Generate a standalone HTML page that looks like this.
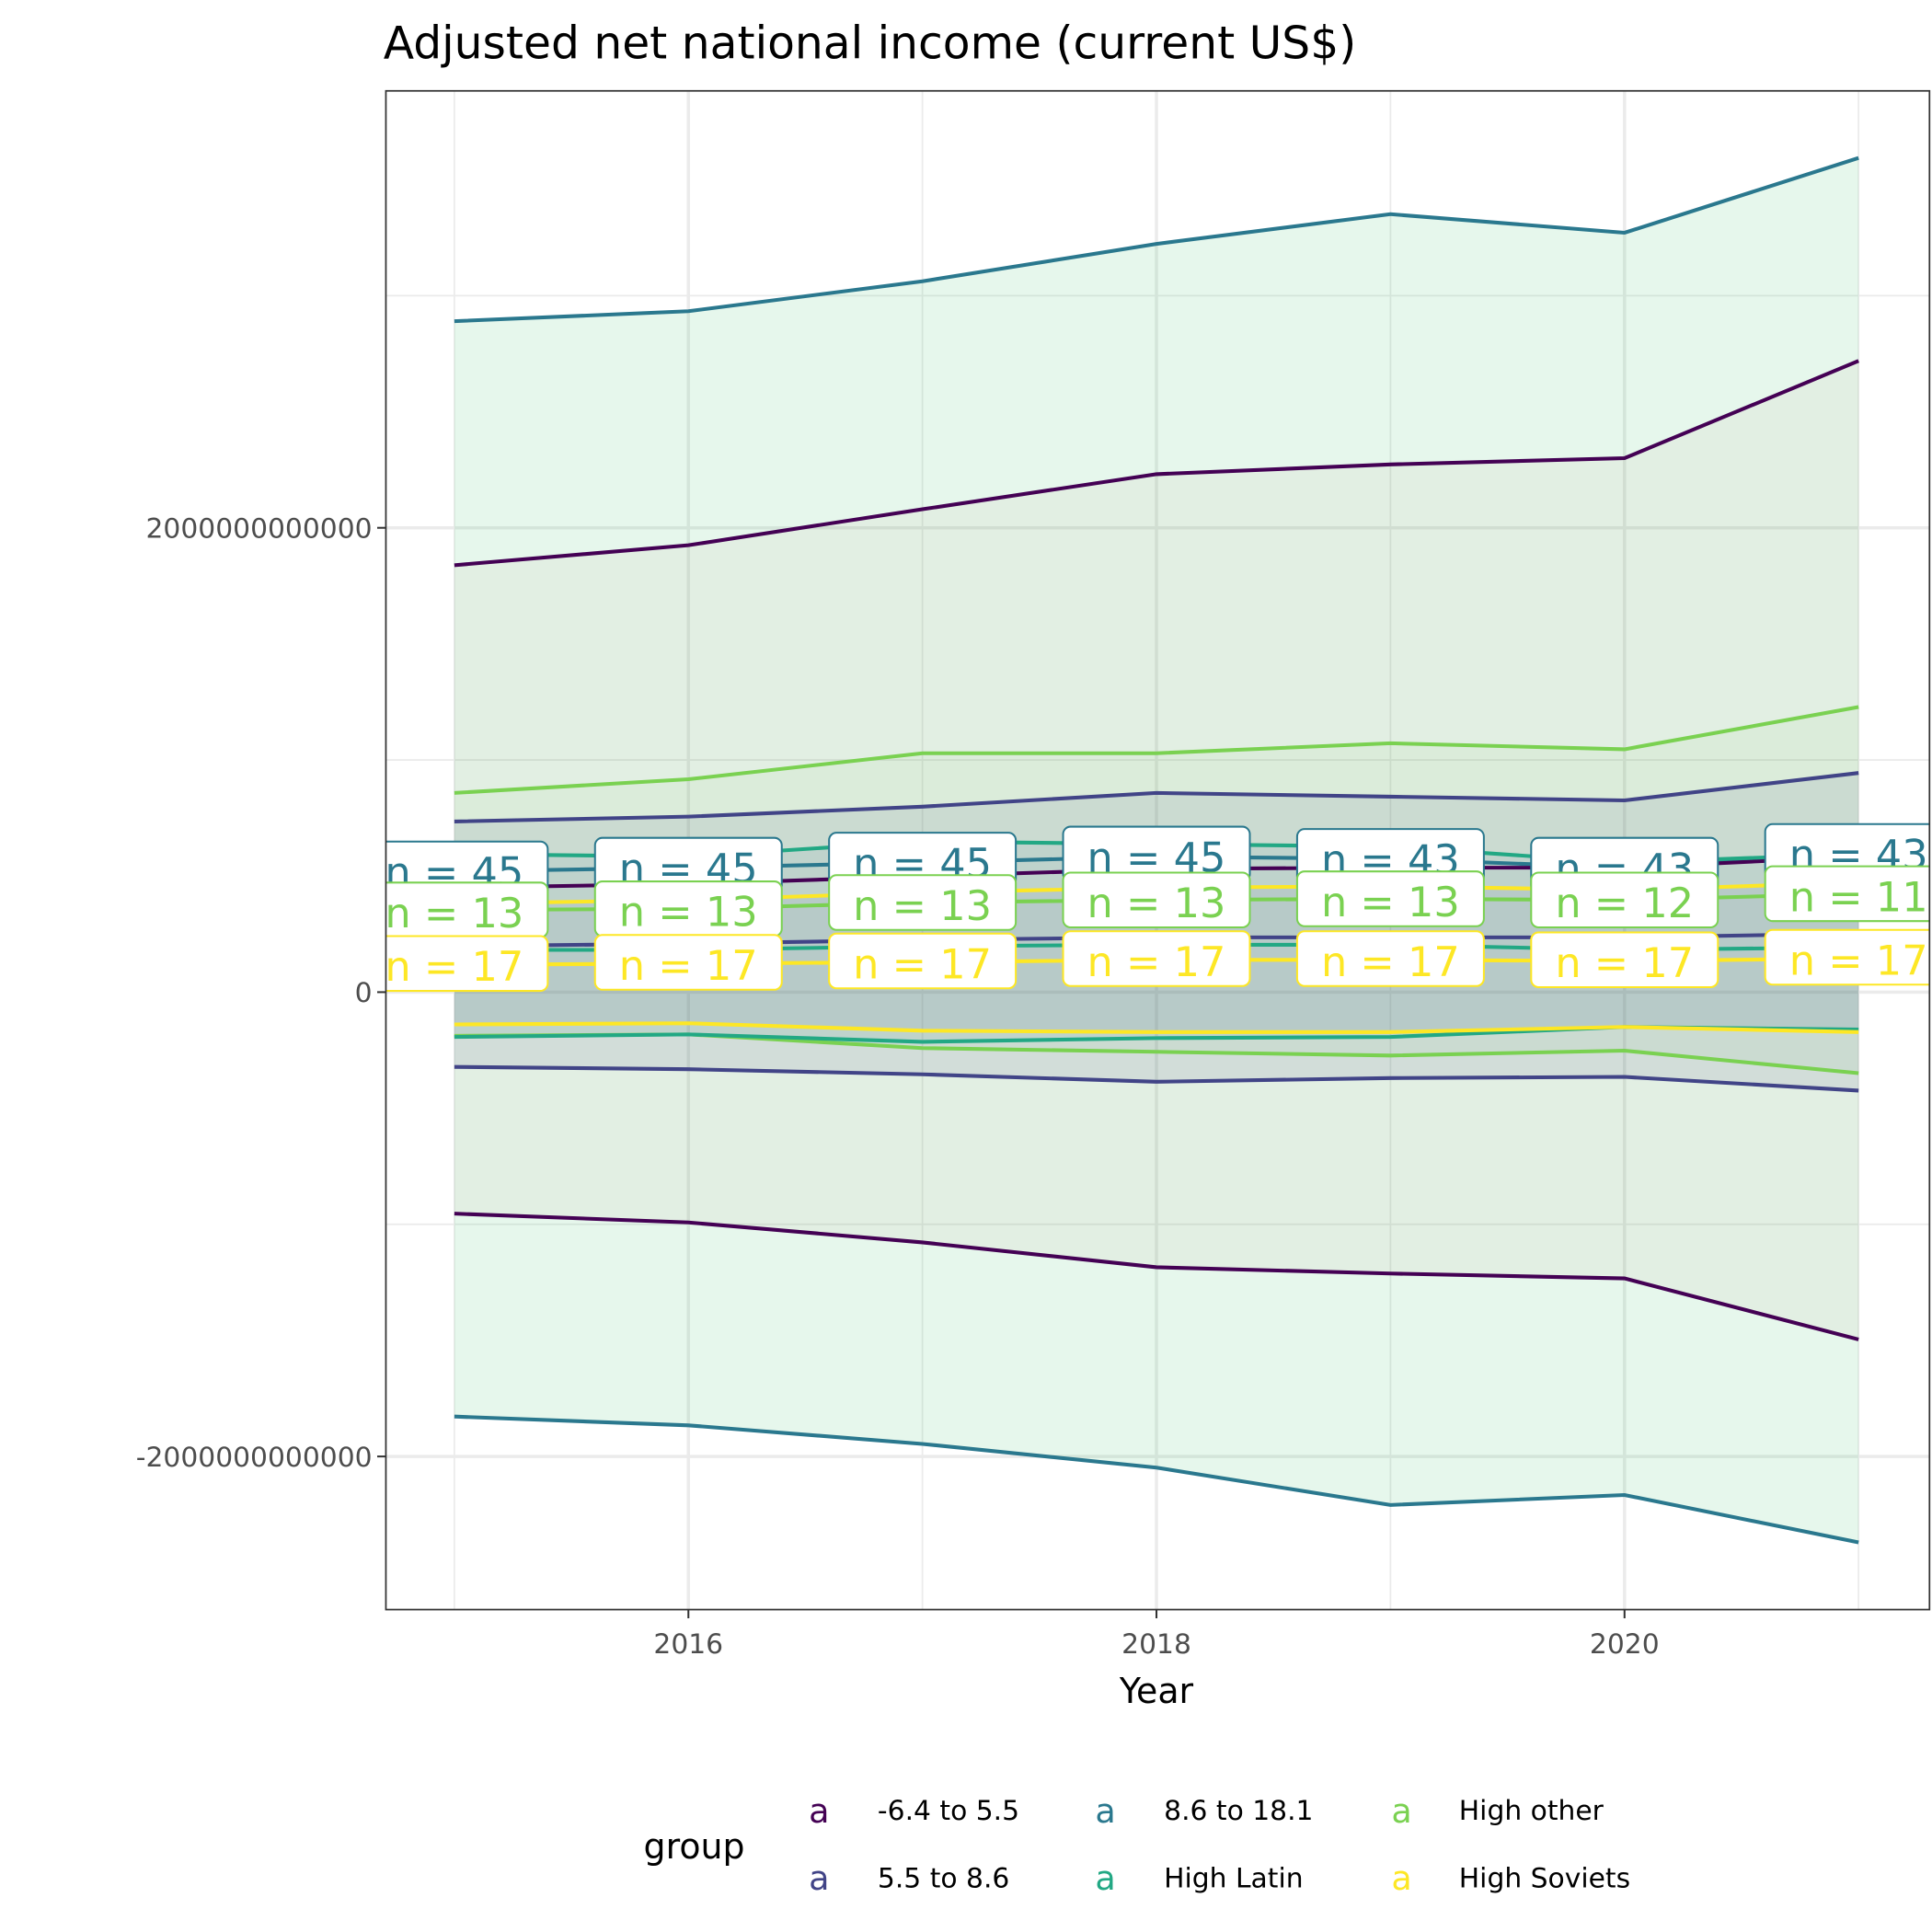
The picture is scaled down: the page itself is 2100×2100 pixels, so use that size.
<!DOCTYPE html>
<html><head><meta charset="utf-8"><style>
html,body{margin:0;padding:0;background:#fff}
svg{display:block;font-family:"DejaVu Sans","Liberation Sans",sans-serif}
</style></head><body>
<svg id="chart" width="2100" height="2100" viewBox="0 0 1552 1552" xmlns="http://www.w3.org/2000/svg">
<text x="308" y="47" font-size="36" fill="#000">Adjusted net national income (current US$)</text>
<defs><clipPath id="pc"><rect x="310" y="73" width="1240" height="1220"/></clipPath></defs>
<rect x="310" y="73" width="1240" height="1220" fill="#fff"/>
<g id="grid"></g>
<g id="ribbons" clip-path="url(#pc)"></g>
<g id="lines" clip-path="url(#pc)"></g>
<g id="labels" clip-path="url(#pc)"></g>
<rect x="310" y="73" width="1240" height="1220" fill="none" stroke="#333" stroke-width="1.3"/>
<g id="axes"></g>
<text x="929" y="1368" font-size="28" text-anchor="middle">Year</text>
<g id="legend"></g>
</svg>
<script>
const years=[2015,2016,2017,2018,2019,2020,2021];
const groups=["-6.4 to 5.5","5.5 to 8.6","8.6 to 18.1","High Latin","High other","High Soviets"];
const colors=["#440154","#414487","#2A788E","#22A884","#7AD151","#FDE725"];
// values in billions US$
const upperG1=[1839,1925,2080,2231,2273,2300,2719];
const meanG1=[450,466,499,531,536,536,584];
const lowerG1=[-954,-992,-1078,-1185,-1212,-1233,-1496];
const upperG2=[735,756,799,858,842,826,944];
const meanG2=[198,209,225,236,236,236,252];
const lowerG2=[-322,-332,-354,-386,-370,-365,-424];
const upperG3=[2890,2933,3062,3223,3351,3271,3593];
const meanG3=[520,536,558,584,574,536,595];
const lowerG3=[-1828,-1866,-1946,-2048,-2209,-2166,-2370];
const upperG4=[595,584,649,638,627,558,595];
const meanG4=[182,182,198,204,204,182,193];
const lowerG4=[-193,-182,-214,-198,-193,-150,-161];
const upperG5=[858,917,1029,1029,1072,1046,1228];
const meanG5=[354,359,386,397,402,397,424];
const lowerG5=[-188,-182,-241,-257,-273,-252,-349];
const upperG6=[381,397,429,450,456,440,472];
const meanG6=[118,123,129,139,139,134,145];
const lowerG6=[-139,-134,-166,-172,-172,-150,-172];
const nG3=[45,45,45,45,43,43,43];
const nG5=[13,13,13,13,13,12,11];
const nG6=[17,17,17,17,17,17,17];
const yTicks=[-2000,0,2000];
const yTickLabels=["-2000000000000","0","2000000000000"];
const xTicks=[2016,2018,2020];

const NS="http://www.w3.org/2000/svg";
const X=y=>365+(y-2015)*188;
const Y=v=>797-v*373/2000;
function mk(t,a,p){const e=document.createElementNS(NS,t);for(const k in a)e.setAttribute(k,a[k]);(p||document.getElementById('chart')).appendChild(e);return e;}
const grid=document.getElementById('grid');
[-1000,1000,3000].forEach(v=>{const l=mk('line',{x1:310,x2:1550,y1:Y(v),y2:Y(v),stroke:'#ebebeb','stroke-width':1.3},grid);});
[2015,2017,2019,2021].forEach(v=>{const l=mk('line',{x1:X(v),x2:X(v),y1:73,y2:1293,stroke:'#ebebeb','stroke-width':1.3},grid);});
yTicks.forEach(v=>{const l=mk('line',{x1:310,x2:1550,y1:Y(v),y2:Y(v),stroke:'#ebebeb','stroke-width':2.6},grid);});
xTicks.forEach(v=>{const l=mk('line',{x1:X(v),x2:X(v),y1:73,y2:1293,stroke:'#ebebeb','stroke-width':2.6},grid);});

const U=[upperG1,upperG2,upperG3,upperG4,upperG5,upperG6];
const M=[meanG1,meanG2,meanG3,meanG4,meanG5,meanG6];
const L=[lowerG1,lowerG2,lowerG3,lowerG4,lowerG5,lowerG6];
const fills=["#b0705a","#414487","#3cc070","#2A788E","#7AD151","#414487"];
const ops=[0.06,0.1,0.13,0.07,0.06,0.06];
const rib=document.getElementById('ribbons');
const order=[2,0,4,1,3,5];
order.forEach(g=>{
  let d='M'+years.map((y,i)=>X(y)+','+Y(U[g][i])).join(' L')+' L'+years.slice().reverse().map((y,j)=>{const i=years.length-1-j;return X(y)+','+Y(L[g][i]);}).join(' L')+'Z';
  const p=mk('path',{d:d,fill:fills[g],'fill-opacity':ops[g],stroke:'none'},rib);
  
  
});
const ln=document.getElementById('lines');
order.forEach(g=>{
  [U[g],M[g],L[g]].forEach((arr,k)=>{
    const p=mk('polyline',{points:years.map((y,i)=>X(y)+','+Y(arr[i])).join(' '),fill:'none',stroke:colors[g],'stroke-width':3},ln);
    
    
  });
});
const lab=document.getElementById('labels');
const labSets=[[2,nG3,-2],[4,nG5,0],[5,nG6,-1]];
labSets.forEach(([g,ns,off])=>{
  years.forEach((y,i)=>{
    const cy=Y(M[g][i])+off;
    const r=mk('rect',{x:X(y)-75,y:cy-22,width:150,height:44,rx:6,fill:'#fff',stroke:colors[g],'stroke-width':1.5},lab);
    
    
    const t=mk('text',{x:X(y),y:cy+14,'font-size':33,'text-anchor':'middle',fill:colors[g]},lab);
    t.textContent='n = '+ns[i];
    
    
  });
});
const ax=document.getElementById('axes');
yTicks.forEach((v,i)=>{
  const l=mk('line',{x1:303,x2:310,y1:Y(v),y2:Y(v),stroke:'#333','stroke-width':1.5},ax);
  
  const t=mk('text',{x:299,y:Y(v)+8,'font-size':22,'text-anchor':'end',fill:'#4d4d4d'},ax);
  t.textContent=yTickLabels[i];
  
});
xTicks.forEach(v=>{
  const l=mk('line',{x1:X(v),x2:X(v),y1:1293,y2:1300,stroke:'#333','stroke-width':1.5},ax);
  
  const t=mk('text',{x:X(v),y:1328,'font-size':22,'text-anchor':'middle',fill:'#4d4d4d'},ax);
  t.textContent=v;
  
});
const lg=document.getElementById('legend');
const gt=mk('text',{x:517,y:1493,'font-size':28},lg);gt.textContent='group';

const kx=[658,888,1126],tx=[705,935,1172],ry=[1462,1516];
groups.forEach((g,i)=>{
  const c=Math.floor(i/2),r=i%2;
  const k=mk('text',{x:kx[c],y:ry[r]+2,'font-size':27,'text-anchor':'middle',fill:colors[i]},lg);k.textContent='a';
  
  const t=mk('text',{x:tx[c],y:ry[r],'font-size':22},lg);t.textContent=g;
  
});
</script>
</body></html>
